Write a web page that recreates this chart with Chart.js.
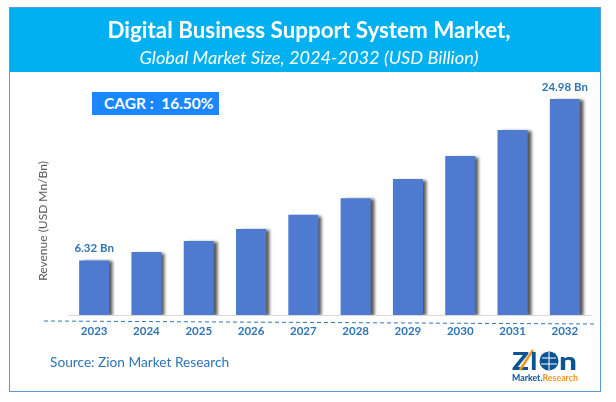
<!DOCTYPE html>
<html>
<head>
<meta charset="utf-8">
<script src="https://cdn.jsdelivr.net/npm/chart.js@4"></script>
<style>
  html, body { margin: 0; padding: 0; background: #fff; }
  body { width: 616px; height: 402px; overflow: hidden; position: relative; font-family: Lato, sans-serif; }
  canvas#grafico { position: absolute; left: 0; top: 0; }
  .frame { position: absolute; left: 9px; top: 7px; width: 590px; height: 383px; border: 1px solid #5b9bd5; }
  .header { position: absolute; left: 10px; top: 8px; width: 590px; height: 64px; background: #00b0f0; color: #fff; text-align: center; }
  .title { position: absolute; left: 4px; width: 100%; top: 9px; font-size: 22.4px; font-weight: bold; line-height: 26px; }
  .subtitle { position: absolute; left: 4px; width: 100%; top: 38px; font-size: 18.2px; font-style: italic; line-height: 22px; }
  .cagr { position: absolute; left: 92px; top: 92px; width: 127px; height: 23px; background: #1a86ff; color: #fff; font-size: 15.5px; font-weight: bold; line-height: 23px; text-indent: 12px; white-space: pre; }
  .ylabel { position: absolute; left: 42px; top: 221px; transform: translate(-50%, -50%) rotate(-90deg); font-size: 12px; color: #595959; white-space: nowrap; }
  .source { position: absolute; left: 50px; top: 353px; font-size: 13.7px; color: #2e75b6; white-space: nowrap; }
  svg { position: absolute; left: 0; top: 0; }
</style>
</head>
<body>
<canvas id="grafico" width="616" height="402"></canvas>
<div class="frame"></div>
<div class="header">
  <div class="title">Digital Business Support System Market,</div>
  <div class="subtitle">Global Market Size, 2024-2032 (USD Billion)</div>
</div>
<div class="cagr">CAGR :  16.50%</div>
<div class="ylabel">Revenue (USD Mn/Bn)</div>
<div class="source">Source: Zion Market Research</div>
<svg width="616" height="402">
  <line x1="44" y1="321" x2="594" y2="324" stroke="#2e75b6" stroke-width="1" stroke-dasharray="4 3"/>
  <text x="512" y="370" font-family="Lato" font-weight="900" font-size="25" fill="#0b5394" textLength="17" lengthAdjust="spacingAndGlyphs">Z</text>
  <line x1="520" y1="370" x2="533" y2="350" stroke="#f7941d" stroke-width="2.5"/>
  <text x="530" y="370" font-family="Lato" font-weight="900" font-size="25" fill="#0b5394">I</text>
  <circle cx="549" cy="361" r="9.5" fill="#0b5394"/>
  <path d="M542 358 h14 M541 364 h16 M549 352 v18" stroke="#fff" stroke-width="1" fill="none"/>
  <text x="559" y="370" font-family="Lato" font-weight="900" font-size="25" fill="#0b5394" textLength="18" lengthAdjust="spacingAndGlyphs">n</text>
  <text x="512" y="381" font-family="Lato" font-weight="bold" font-size="9.6" fill="#0b5394" textLength="66" lengthAdjust="spacingAndGlyphs">Market.<tspan fill="#f7941d">Research</tspan></text>
</svg>
<script>
// DATI
const anni = ["2023","2024","2025","2026","2027","2028","2029","2030","2031","2032"];
const ricavi = [6.32, 7.3, 8.55, 9.95, 11.6, 13.5, 15.75, 18.4, 21.4, 24.98];
const etichette = ["6.32 Bn","","","","","","","","","24.98 Bn"];

// ombra delle barre, verso destra
const ombraBarre = {
  id: 'ombraBarre',
  beforeDatasetsDraw(chart) {
    const ctx = chart.ctx;
    ctx.save();
    ctx.shadowColor = 'rgba(0,0,0,0.65)';
    ctx.shadowBlur = 3;
    ctx.shadowOffsetX = 4;
    ctx.shadowOffsetY = 1;
  },
  afterDatasetsDraw(chart) {
    chart.ctx.restore();
  }
};

// etichette sopra la prima e l'ultima barra
const etichetteBarre = {
  id: 'etichetteBarre',
  afterDatasetsDraw(chart) {
    const ctx = chart.ctx;
    ctx.save();
    ctx.font = 'bold 11.5px Lato';
    ctx.fillStyle = '#2e75b6';
    ctx.textAlign = 'center';
    ctx.textBaseline = 'bottom';
    chart.getDatasetMeta(0).data.forEach((bar, i) => {
      if (etichette[i]) ctx.fillText(etichette[i], bar.x, bar.y - 6);
    });
    ctx.restore();
  }
};

new Chart(document.getElementById('grafico').getContext('2d'), {
  type: 'bar',
  data: {
    labels: anni,
    datasets: [{
      data: ricavi,
      backgroundColor: '#4e7bcf',
      borderWidth: 0,
      barPercentage: 0.575,
      categoryPercentage: 1
    }]
  },
  plugins: [ombraBarre, etichetteBarre],
  options: {
    responsive: false,
    animation: false,
    layout: { padding: { top: 73, right: 25, left: 0, bottom: 0 } },
    plugins: { legend: { display: false }, tooltip: { enabled: false } },
    scales: {
      x: {
        grid: { display: false, drawTicks: false },
        border: { color: '#d9d9d9', width: 1 },
        ticks: { color: '#2e75b6', font: { family: 'Lato', size: 11.5, weight: 'bold' }, padding: 9, maxRotation: 0 },
        afterFit(scale) { scale.height = 87; }
      },
      y: {
        min: 0,
        max: 28,
        grid: { display: false },
        border: { display: false },
        ticks: { display: false },
        afterFit(scale) { scale.width = 68; }
      }
    }
  }
});
</script>
</body>
</html>
